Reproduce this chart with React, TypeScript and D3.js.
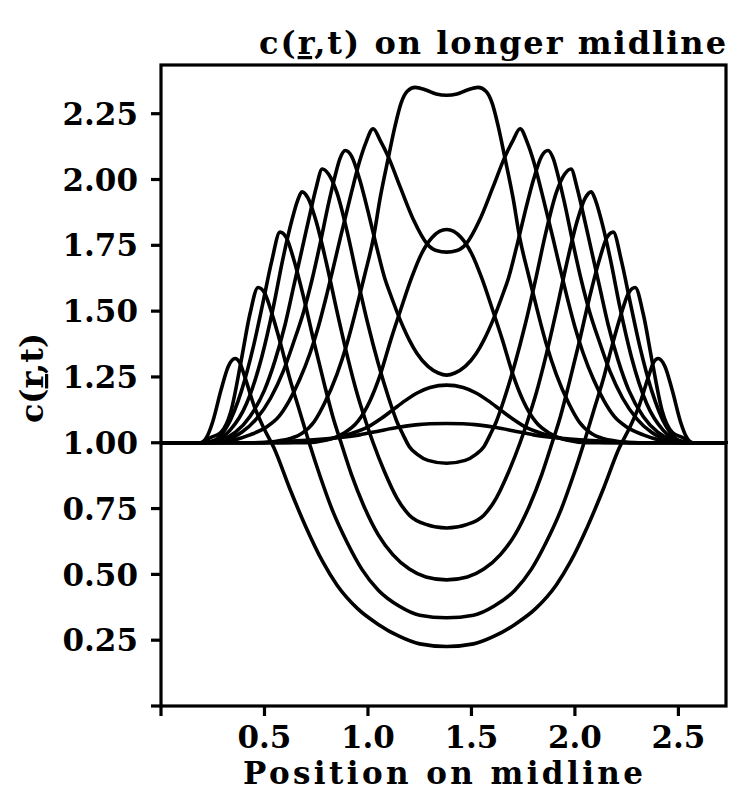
import React from "react";
import * as d3 from "d3";

// ---- data ----
const xTickValues = [0, 0.5, 1.0, 1.5, 2.0, 2.5];
const xTickLabels = ["", "0.5", "1.0", "1.5", "2.0", "2.5"];
const yTickValues = [0, 0.25, 0.5, 0.75, 1.0, 1.25, 1.5, 1.75, 2.0, 2.25];
const yTickLabels = ["", "0.25", "0.50", "0.75", "1.00", "1.25", "1.50", "1.75", "2.00", "2.25"];

const curve1: [number, number][] = [
  [0, 1], [0.19, 1.0], [0.22, 1.02], [0.25, 1.08], [0.29, 1.2], [0.325, 1.29], [0.358, 1.32],
  [0.38, 1.305], [0.405, 1.25], [0.45, 1.14], [0.5, 1.05], [0.546, 0.98], [0.62, 0.83], [0.7, 0.68],
  [0.78, 0.55], [0.85, 0.46], [0.95, 0.37], [1.05, 0.31], [1.15, 0.265], [1.25, 0.236], [1.38, 0.226],
  [1.51, 0.236], [1.61, 0.265], [1.71, 0.31], [1.81, 0.37], [1.91, 0.46], [1.98, 0.55], [2.06, 0.68],
  [2.14, 0.83], [2.214, 0.98], [2.26, 1.05], [2.31, 1.14], [2.355, 1.25], [2.38, 1.305], [2.402, 1.32],
  [2.435, 1.29], [2.47, 1.2], [2.51, 1.08], [2.54, 1.02], [2.57, 1.0], [2.73, 1.0],
];
const curve2: [number, number][] = [
  [0, 1], [0.19, 1.0], [0.24, 1.02], [0.29, 1.04], [0.338, 1.12], [0.387, 1.31], [0.43, 1.49], [0.469, 1.59],
  [0.5, 1.57], [0.54, 1.48], [0.58, 1.37], [0.62, 1.25], [0.67, 1.12], [0.716, 1.0], [0.77, 0.87],
  [0.83, 0.74], [0.9, 0.62], [0.97, 0.52], [1.05, 0.44], [1.15, 0.38], [1.25, 0.345], [1.38, 0.335],
  [1.51, 0.345], [1.61, 0.38], [1.71, 0.44], [1.79, 0.52], [1.86, 0.62], [1.93, 0.74], [1.99, 0.87],
  [2.044, 1.0], [2.09, 1.12], [2.14, 1.25], [2.18, 1.37], [2.22, 1.48], [2.26, 1.57], [2.291, 1.59],
  [2.33, 1.49], [2.373, 1.31], [2.422, 1.12], [2.47, 1.04], [2.52, 1.02], [2.57, 1.0], [2.73, 1.0],
];
const curve3: [number, number][] = [
  [0, 1], [0.2, 1.0], [0.26, 1.01], [0.318, 1.06], [0.39, 1.2], [0.446, 1.364], [0.495, 1.541], [0.535, 1.69],
  [0.575, 1.8], [0.605, 1.78], [0.64, 1.7], [0.69, 1.55], [0.74, 1.38], [0.79, 1.22], [0.83, 1.1], [0.87, 1.0],
  [0.92, 0.88], [0.98, 0.76], [1.05, 0.65], [1.12, 0.575], [1.2, 0.52], [1.28, 0.49], [1.38, 0.479],
  [1.48, 0.49], [1.56, 0.52], [1.64, 0.575], [1.71, 0.65], [1.78, 0.76], [1.84, 0.88], [1.89, 1.0],
  [1.93, 1.1], [1.97, 1.22], [2.02, 1.38], [2.07, 1.55], [2.12, 1.7], [2.155, 1.78], [2.185, 1.8],
  [2.225, 1.69], [2.265, 1.541], [2.314, 1.364], [2.37, 1.2], [2.442, 1.06], [2.5, 1.01], [2.56, 1.0], [2.73, 1.0],
];
const curve4: [number, number][] = [
  [0, 1], [0.21, 1.0], [0.27, 1.01], [0.334, 1.048], [0.414, 1.15], [0.487, 1.326], [0.543, 1.516],
  [0.591, 1.706], [0.632, 1.844], [0.66, 1.92], [0.681, 1.953], [0.71, 1.93], [0.75, 1.84], [0.8, 1.68],
  [0.85, 1.5], [0.9, 1.33], [0.95, 1.18], [0.99, 1.08], [1.025, 1.0], [1.08, 0.89], [1.14, 0.79],
  [1.2, 0.725], [1.28, 0.69], [1.38, 0.676], [1.48, 0.69], [1.56, 0.725], [1.62, 0.79], [1.68, 0.89],
  [1.735, 1.0], [1.77, 1.08], [1.81, 1.18], [1.86, 1.33], [1.91, 1.5], [1.96, 1.68], [2.01, 1.84],
  [2.05, 1.93], [2.079, 1.953], [2.1, 1.92], [2.128, 1.844], [2.169, 1.706], [2.217, 1.516], [2.273, 1.326],
  [2.346, 1.15], [2.426, 1.048], [2.49, 1.01], [2.55, 1.0], [2.73, 1.0],
];
const curve5: [number, number][] = [
  [0, 1], [0.22, 1.0], [0.29, 1.01], [0.36, 1.04], [0.43, 1.1], [0.5, 1.2], [0.55, 1.31], [0.6, 1.45],
  [0.64, 1.59], [0.68, 1.73], [0.72, 1.87], [0.75, 1.97], [0.779, 2.04], [0.81, 2.02], [0.85, 1.95],
  [0.9, 1.8], [0.95, 1.62], [1.0, 1.45], [1.05, 1.3], [1.1, 1.17], [1.14, 1.08], [1.17, 1.03], [1.2, 0.985],
  [1.24, 0.955], [1.29, 0.933], [1.38, 0.922], [1.47, 0.933], [1.52, 0.955], [1.56, 0.985], [1.59, 1.03],
  [1.62, 1.08], [1.66, 1.17], [1.71, 1.3], [1.76, 1.45], [1.81, 1.62], [1.86, 1.8], [1.91, 1.95],
  [1.95, 2.02], [1.981, 2.04], [2.01, 1.97], [2.04, 1.87], [2.08, 1.73], [2.12, 1.59], [2.16, 1.45],
  [2.21, 1.31], [2.26, 1.2], [2.33, 1.1], [2.4, 1.04], [2.47, 1.01], [2.54, 1.0], [2.73, 1.0],
];
const curve6: [number, number][] = [
  [0, 1], [0.23, 1.0], [0.31, 1.01], [0.39, 1.04], [0.46, 1.09], [0.53, 1.17], [0.59, 1.27], [0.64, 1.38],
  [0.69, 1.5], [0.73, 1.62], [0.77, 1.76], [0.81, 1.91], [0.84, 2.01], [0.865, 2.08], [0.89, 2.11],
  [0.92, 2.09], [0.96, 2.0], [1.0, 1.88], [1.04, 1.75], [1.083, 1.62], [1.107, 1.567], [1.156, 1.466],
  [1.2, 1.39], [1.237, 1.339], [1.29, 1.29], [1.34, 1.265], [1.38, 1.257], [1.42, 1.265], [1.47, 1.29],
  [1.523, 1.339], [1.56, 1.39], [1.604, 1.466], [1.653, 1.567], [1.677, 1.62], [1.72, 1.75], [1.76, 1.88],
  [1.8, 2.0], [1.84, 2.09], [1.87, 2.11], [1.895, 2.08], [1.92, 2.01], [1.95, 1.91], [1.99, 1.76],
  [2.03, 1.62], [2.07, 1.5], [2.12, 1.38], [2.17, 1.27], [2.23, 1.17], [2.3, 1.09], [2.37, 1.04],
  [2.45, 1.01], [2.53, 1.0], [2.73, 1.0],
];
const curve7: [number, number][] = [
  [0, 1], [0.25, 1.0], [0.35, 1.01], [0.43, 1.03], [0.51, 1.06], [0.57, 1.1], [0.62, 1.16], [0.67, 1.24],
  [0.72, 1.34], [0.76, 1.44], [0.8, 1.56], [0.84, 1.69], [0.87, 1.79], [0.92, 1.95], [0.96, 2.07],
  [0.99, 2.14], [1.025, 2.193], [1.059, 2.149], [1.099, 2.085], [1.156, 1.971], [1.221, 1.845],
  [1.285, 1.756], [1.33, 1.73], [1.38, 1.724], [1.43, 1.73], [1.475, 1.756], [1.539, 1.845], [1.604, 1.971],
  [1.661, 2.085], [1.701, 2.149], [1.735, 2.193], [1.77, 2.14], [1.8, 2.07], [1.84, 1.95], [1.89, 1.79],
  [1.92, 1.69], [1.96, 1.56], [2.0, 1.44], [2.04, 1.34], [2.09, 1.24], [2.14, 1.16], [2.19, 1.1],
  [2.25, 1.06], [2.33, 1.03], [2.41, 1.01], [2.51, 1.0], [2.73, 1.0],
];
const curve8: [number, number][] = [
  [0, 1], [0.45, 1.0], [0.55, 1.005], [0.62, 1.015], [0.68, 1.035], [0.74, 1.08], [0.79, 1.15], [0.85, 1.26],
  [0.9, 1.38], [0.962, 1.567], [0.986, 1.643], [1.027, 1.78], [1.059, 1.93], [1.099, 2.085], [1.13, 2.2],
  [1.16, 2.29], [1.19, 2.335], [1.228, 2.35], [1.28, 2.34], [1.33, 2.325], [1.38, 2.32], [1.43, 2.325],
  [1.48, 2.34], [1.532, 2.35], [1.57, 2.335], [1.6, 2.29], [1.63, 2.2], [1.661, 2.085], [1.701, 1.93],
  [1.733, 1.78], [1.774, 1.643], [1.798, 1.567], [1.86, 1.38], [1.91, 1.26], [1.97, 1.15], [2.02, 1.08],
  [2.08, 1.035], [2.14, 1.015], [2.21, 1.005], [2.31, 1.0], [2.73, 1.0],
];
const curve9: [number, number][] = [
  [0, 1], [0.7, 1.0], [0.8, 1.01], [0.88, 1.035], [0.95, 1.08], [1.01, 1.16], [1.06, 1.26], [1.11, 1.39],
  [1.16, 1.51], [1.21, 1.625], [1.26, 1.72], [1.31, 1.78], [1.38, 1.81], [1.45, 1.78], [1.5, 1.72],
  [1.55, 1.625], [1.6, 1.51], [1.65, 1.39], [1.7, 1.26], [1.75, 1.16], [1.81, 1.08], [1.88, 1.035],
  [1.96, 1.01], [2.06, 1.0], [2.73, 1.0],
];
const curve10: [number, number][] = [
  [0, 1], [0.55, 1.0], [0.7, 1.005], [0.82, 1.015], [0.92, 1.035], [1.0, 1.06], [1.06, 1.09], [1.12, 1.125],
  [1.18, 1.16], [1.24, 1.19], [1.3, 1.21], [1.38, 1.219], [1.46, 1.21], [1.52, 1.19], [1.58, 1.16],
  [1.64, 1.125], [1.7, 1.09], [1.76, 1.06], [1.84, 1.035], [1.94, 1.015], [2.06, 1.005], [2.21, 1.0], [2.73, 1.0],
];
const curve11: [number, number][] = [
  [0, 1], [0.45, 1.0], [0.6, 1.005], [0.72, 1.01], [0.84, 1.018], [0.96, 1.03], [1.06, 1.046], [1.14, 1.058],
  [1.22, 1.067], [1.3, 1.072], [1.38, 1.073], [1.46, 1.072], [1.54, 1.067], [1.62, 1.058], [1.7, 1.046],
  [1.8, 1.03], [1.92, 1.018], [2.04, 1.01], [2.16, 1.005], [2.31, 1.0], [2.73, 1.0],
];

const curves = [curve1, curve2, curve3, curve4, curve5, curve6, curve7, curve8, curve9, curve10, curve11];

// ---- layout ----
const W = 738;
const H = 795;
const FONT = "'DejaVu Serif', serif";

export default function App() {
  const x = d3.scaleLinear().domain([0, 2.73]).range([161, 726]);
  const y = d3.scaleLinear().domain([0, 2.435]).range([706, 65]);
  const line = d3
    .line<[number, number]>()
    .x((d) => x(d[0]))
    .y((d) => y(d[1]))
    .curve(d3.curveMonotoneX);

  const [x0, x1] = x.range();
  const [yb, yt] = y.range();

  return (
    <svg
      width={W}
      height={H}
      style={{ position: "absolute", left: 0, top: 0, background: "#fff" }}
      fontFamily={FONT}
      fontWeight="bold"
    >
      <rect width={W} height={H} fill="#fff" />
      {/* title */}
      <text x={259} y={54} fontSize={32} textLength={467} lengthAdjust="spacing">
        c(<tspan style={{ textDecoration: "underline" }}>r</tspan>,t) on longer midline
      </text>

      {/* curves */}
      <g fill="none" stroke="#000" strokeWidth={3.6} strokeLinejoin="round" strokeLinecap="round">
        {curves.map((c, i) => (
          <path key={i} d={line(c) || ""} />
        ))}
      </g>

      {/* frame */}
      <rect x={x0} y={yt} width={x1 - x0} height={yb - yt} fill="none" stroke="#000" strokeWidth={3.2} />

      {/* ticks */}
      <g stroke="#000" strokeWidth={3.2}>
        {yTickValues.map((v) => (
          <line key={v} x1={x0 - 10} x2={x0} y1={y(v)} y2={y(v)} />
        ))}
        {xTickValues.map((v) => (
          <line key={v} x1={x(v)} x2={x(v)} y1={yb} y2={yb + 10} />
        ))}
      </g>
      {yTickValues.map((v, i) => (
        <text key={v} x={138} y={y(v)} dy="0.36em" fontSize={31} textAnchor="end">
          {yTickLabels[i]}
        </text>
      ))}
      {xTickValues.map((v, i) => (
        <text key={v} x={x(v)} y={748} fontSize={31} textAnchor="middle">
          {xTickLabels[i]}
        </text>
      ))}

      {/* axis titles */}
      <text x={443} y={784} fontSize={31} textAnchor="middle" textLength={400} lengthAdjust="spacing">
        Position on midline
      </text>
      <text transform={`translate(43, 378) rotate(-90)`} fontSize={32} textAnchor="middle">
        c(<tspan style={{ textDecoration: "underline" }}>r</tspan>,t)
      </text>
    </svg>
  );
}
